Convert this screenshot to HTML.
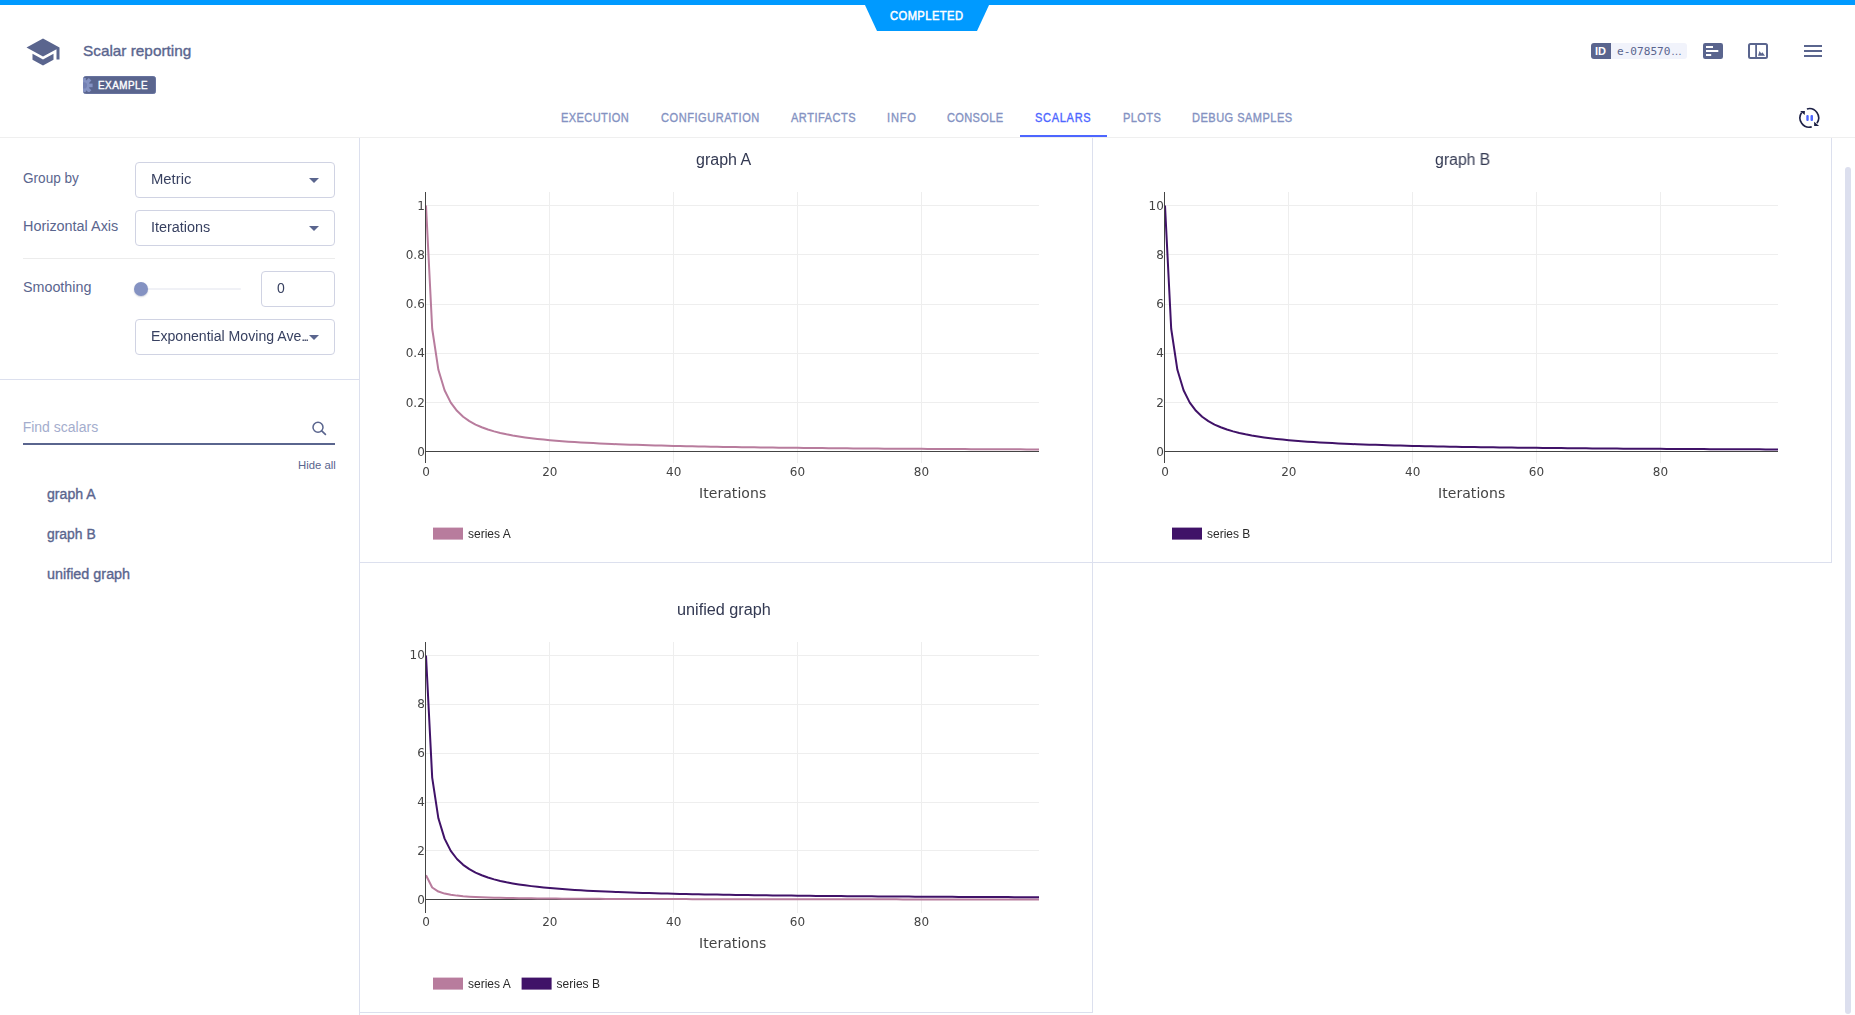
<!DOCTYPE html>
<html lang="en"><head><meta charset="utf-8"><title>Scalar reporting</title>
<style>
html,body{margin:0;padding:0;background:#fff}
body{width:1855px;height:1015px;overflow:hidden;position:relative;font-family:"Liberation Sans",sans-serif}
.abs{position:absolute}
.t{position:absolute;white-space:nowrap;line-height:1;transform-origin:0 0;margin:0;padding:0;list-style:none;display:block}
.box{position:absolute;box-sizing:border-box;border:1px solid #d0d3e3;border-radius:4px;background:#fff}
.ln{position:absolute;background:#dce0ee}
.chart,h2.t,#v_metric,#v_iter,#v_ema,#v_zero{will-change:transform}
.chart text{font-family:"DejaVu Sans","Liberation Sans",sans-serif;font-size:12px;fill:#444}
.chart text.axt{font-size:14px}
.chart text.lg{font-family:"Liberation Sans",sans-serif;font-size:12px;fill:#2a2a2a}
.arr{position:absolute;width:0;height:0;border-left:5px solid transparent;border-right:5px solid transparent;border-top:5px solid #5a658e}
</style></head><body>

<header>
<div class="abs" style="left:0;top:0;width:1855px;height:5px;background:#009aff"></div>
<svg class="abs" style="left:860px;top:0" width="134" height="32" viewBox="860 0 134 32"><polygon points="864.5,4 989.5,4 977,31 877,31" fill="#009aff"/></svg>
<div class="abs" style="left:0;top:137px;width:1855px;height:1px;background:#efefef"></div>
<svg class="abs" style="left:25px;top:33.7px" width="36" height="36" viewBox="0 0 24 24"><path fill="#5a658e" d="M5 13.18v4L12 21l7-3.82v-4L12 17l-7-3.82zM12 3L1 9l11 6 9-4.91V17h2V9L12 3z"/></svg>
<div class="abs" style="left:83px;top:76px;width:73px;height:18px;border-radius:3.5px;background:#5a658e;overflow:hidden;box-shadow:inset 0 0 0 0.6px #7480ad"><svg class="abs" style="left:-8.9px;top:1.5px" width="20" height="14.8" viewBox="-10 -7.4 20 14.8"><g fill="#8492c2"><circle r="5.6"/><rect x="-1.8" y="-8.6" width="3.6" height="4" transform="rotate(0)"/><rect x="-1.8" y="-8.6" width="3.6" height="4" transform="rotate(45)"/><rect x="-1.8" y="-8.6" width="3.6" height="4" transform="rotate(90)"/><rect x="-1.8" y="-8.6" width="3.6" height="4" transform="rotate(135)"/><rect x="-1.8" y="-8.6" width="3.6" height="4" transform="rotate(180)"/><rect x="-1.8" y="-8.6" width="3.6" height="4" transform="rotate(225)"/><rect x="-1.8" y="-8.6" width="3.6" height="4" transform="rotate(270)"/><rect x="-1.8" y="-8.6" width="3.6" height="4" transform="rotate(315)"/></g><circle r="3.1" fill="#7380b3"/></svg></div>
<div class="abs" style="left:1591px;top:43px;width:20px;height:16px;background:#5a658e;border-radius:3px 0 0 3px"></div>
<div class="abs" style="left:1611px;top:43px;width:76px;height:16px;background:#f1f3fb;border-radius:0 3px 3px 0"></div>
<svg class="abs" style="left:1703px;top:43px" width="20" height="16" viewBox="0 0 20 16"><rect width="20" height="16" rx="2.2" fill="#5a658e"/><rect x="3" y="3" width="7" height="2" fill="#fff"/><rect x="3" y="7" width="12.3" height="2" fill="#fff"/><rect x="3" y="11" width="5.2" height="2" fill="#fff"/></svg>
<svg class="abs" style="left:1748px;top:43px" width="20" height="16" viewBox="0 0 20 16"><rect x="1" y="1" width="18" height="14" rx="1.5" fill="#fff" stroke="#5a658e" stroke-width="2"/><rect x="7.2" y="1" width="1.8" height="14" fill="#5a658e"/><path d="M10 12.7 L11.6 8 L13.2 10.6 L14.4 9.2 L17 12.7 Z" fill="#5a658e"/></svg>
<svg class="abs" style="left:1804px;top:44px" width="18" height="14" viewBox="0 0 18 14"><rect y="1" width="18" height="2" fill="#5a658e"/><rect y="6" width="18" height="2" fill="#5a658e"/><rect y="11" width="18" height="2" fill="#5a658e"/></svg>
<svg class="abs" style="left:1797px;top:106px" width="24" height="24" viewBox="0 0 24 24"><g fill="none" stroke="#1d2146" stroke-width="1.6"><path d="M9.89 2.92 A9.3 9.3 0 0 1 19.92 17.23"/><path d="M14.71 20.88 A9.3 9.3 0 0 1 4.68 6.57"/></g><path d="M3.1 5.1 L7.9 5 L7.7 9 Z" fill="#1d2146"/><path d="M17.15 15.8 L17.15 20 L22.1 20 Z" fill="#1d2146"/><rect x="9.3" y="8.9" width="2.4" height="6.1" rx="1" fill="#4d66ff"/><rect x="13.5" y="8.9" width="2.5" height="6.1" rx="1" fill="#4d66ff"/></svg>
<strong class="t" id="completed" style="font:400 12px/1 'Liberation Sans', sans-serif;color:#fff;-webkit-text-stroke:0.5px #fff;letter-spacing:0.479px;left:890.10px;top:10.00px;transform:scaleX(0.9300);">COMPLETED</strong><h1 class="t" id="title" style="font:400 15px/1 'Liberation Sans', sans-serif;color:#5a658e;-webkit-text-stroke:0.35px #5a658e;left:82.65px;top:42.50px;transform:scaleX(1.0222);">Scalar reporting</h1><span class="t" id="example" style="font:400 10.6px/1 'Liberation Sans', sans-serif;color:#fff;-webkit-text-stroke:0.4px #fff;letter-spacing:0.554px;left:97.51px;top:80.00px;transform:scaleX(0.9300);">EXAMPLE</span><span class="t" id="idl" style="font:700 10.5px/1 'Liberation Sans', sans-serif;color:#fff;left:1595.15px;top:46.00px;transform:scaleX(1.0490);">ID</span><span class="t" id="idv" style="font:400 11px/1 'DejaVu Sans Mono', 'Liberation Mono', monospace;color:#5a658e;left:1616.66px;top:46.00px;transform:scaleX(1.0094);">e-078570</span><span class="t" id="idd" style="font:400 11px/1 'Liberation Sans', sans-serif;color:#5a658e;left:1670.97px;top:46.00px;transform:scaleX(0.9951);">…</span>
<nav><a class="t" id="tab0" style="font:400 12px/1 'Liberation Sans', sans-serif;color:#8492c2;-webkit-text-stroke:0.35px #8492c2;letter-spacing:0.453px;left:561.11px;top:112.00px;transform:scaleX(0.9200);">EXECUTION</a><a class="t" id="tab1" style="font:400 12px/1 'Liberation Sans', sans-serif;color:#8492c2;-webkit-text-stroke:0.35px #8492c2;letter-spacing:0.584px;left:660.55px;top:112.00px;transform:scaleX(0.9200);">CONFIGURATION</a><a class="t" id="tab2" style="font:400 12px/1 'Liberation Sans', sans-serif;color:#8492c2;-webkit-text-stroke:0.35px #8492c2;letter-spacing:0.551px;left:791.01px;top:112.00px;transform:scaleX(0.9200);">ARTIFACTS</a><a class="t" id="tab3" style="font:400 12px/1 'Liberation Sans', sans-serif;color:#8492c2;-webkit-text-stroke:0.35px #8492c2;letter-spacing:0.878px;left:886.94px;top:112.00px;transform:scaleX(0.9200);">INFO</a><a class="t" id="tab4" style="font:400 12px/1 'Liberation Sans', sans-serif;color:#8492c2;-webkit-text-stroke:0.35px #8492c2;letter-spacing:0.375px;left:947.35px;top:112.00px;transform:scaleX(0.9200);">CONSOLE</a><a class="t" id="tab5" style="font:400 12px/1 'Liberation Sans', sans-serif;color:#4d66ff;-webkit-text-stroke:0.35px #4d66ff;letter-spacing:0.747px;left:1035.48px;top:112.00px;transform:scaleX(0.9200);">SCALARS</a><a class="t" id="tab6" style="font:400 12px/1 'Liberation Sans', sans-serif;color:#8492c2;-webkit-text-stroke:0.35px #8492c2;letter-spacing:0.459px;left:1122.51px;top:112.00px;transform:scaleX(0.9200);">PLOTS</a><a class="t" id="tab7" style="font:400 12px/1 'Liberation Sans', sans-serif;color:#8492c2;-webkit-text-stroke:0.35px #8492c2;letter-spacing:0.517px;left:1192.21px;top:112.00px;transform:scaleX(0.9200);">DEBUG SAMPLES</a>
<div class="abs" style="left:1020px;top:135px;width:87px;height:2px;background:#4d66ff"></div>
</nav></header>
<aside>
<div class="ln" style="left:359px;top:138px;width:1px;height:877px"></div>
<div class="box" style="left:135px;top:162px;width:200px;height:36px"></div><i class="arr" style="left:309px;top:178px"></i>
<div class="box" style="left:135px;top:210px;width:200px;height:36px"></div><i class="arr" style="left:309px;top:226px"></i>
<div class="abs" style="left:23px;top:258px;width:312px;height:1px;background:#ececec"></div>
<div class="abs" style="left:141px;top:288px;width:100px;height:2px;background:#f0f1f6;border-radius:1px"></div>
<div class="abs" style="left:134px;top:282px;width:14px;height:14px;border-radius:50%;background:#8492c2;box-shadow:0 1px 1.5px rgba(60,70,110,.25)"></div>
<div class="box" style="left:261px;top:271px;width:74px;height:36px"></div>
<div class="box" style="left:135px;top:319px;width:200px;height:36px"></div><i class="arr" style="left:309px;top:335px"></i>
<div class="ln" style="left:0;top:379px;width:359px;height:1px"></div>
<div class="abs" style="left:23px;top:443px;width:312px;height:2px;background:#5a658e"></div>
<svg class="abs" style="left:311px;top:420px" width="16" height="16" viewBox="0 0 16 16"><circle cx="7" cy="7.2" r="5" fill="none" stroke="#5a658e" stroke-width="1.5"/><path d="M10.7 10.9 L14.4 14.4" stroke="#5a658e" stroke-width="1.7" stroke-linecap="round"/></svg>
<label class="t" id="l_group" style="font:400 14px/1 'Liberation Sans', sans-serif;color:#5a658e;left:22.89px;top:171.00px;transform:scaleX(0.9707);">Group by</label><span class="t" id="v_metric" style="font:400 14px/1 'Liberation Sans', sans-serif;color:#384161;left:151.05px;top:172.00px;transform:scaleX(1.0585);">Metric</span><label class="t" id="l_haxis" style="font:400 14px/1 'Liberation Sans', sans-serif;color:#5a658e;left:22.64px;top:219.00px;transform:scaleX(1.0284);">Horizontal Axis</label><span class="t" id="v_iter" style="font:400 14px/1 'Liberation Sans', sans-serif;color:#384161;left:150.94px;top:220.00px;transform:scaleX(1.0301);">Iterations</span><label class="t" id="l_smooth" style="font:400 14px/1 'Liberation Sans', sans-serif;color:#5a658e;left:22.82px;top:280.00px;transform:scaleX(1.0216);">Smoothing</label><span class="t" id="v_zero" style="font:400 14px/1 'Liberation Sans', sans-serif;color:#384161;left:276.70px;top:281.00px;">0</span><span class="t" id="v_ema" style="font:400 14px/1 'Liberation Sans', sans-serif;color:#384161;left:150.91px;top:329.00px;transform:scaleX(1.0074);">Exponential Moving Ave<span style="letter-spacing:-1.9px">...</span></span><span class="t" id="find" style="font:400 14px/1 'Liberation Sans', sans-serif;color:#a4adcd;left:22.66px;top:420.00px;">Find scalars</span><a class="t" id="hide" style="font:400 11px/1 'Liberation Sans', sans-serif;color:#5a658e;left:297.64px;top:460.00px;transform:scaleX(1.0306);">Hide all</a>
<ul style="margin:0;padding:0"><li class="t" id="m_a" style="font:400 14px/1 'Liberation Sans', sans-serif;color:#5a658e;-webkit-text-stroke:0.35px #5a658e;left:46.69px;top:487.00px;transform:scaleX(1.0076);">graph A</li><li class="t" id="m_b" style="font:400 14px/1 'Liberation Sans', sans-serif;color:#5a658e;-webkit-text-stroke:0.35px #5a658e;left:46.70px;top:527.00px;transform:scaleX(0.9927);">graph B</li><li class="t" id="m_u" style="font:400 14px/1 'Liberation Sans', sans-serif;color:#5a658e;-webkit-text-stroke:0.35px #5a658e;left:46.50px;top:567.00px;transform:scaleX(1.0267);">unified graph</li></ul>
</aside>
<main>
<div class="ln" style="left:1092px;top:138px;width:1px;height:875px"></div>
<div class="ln" style="left:1831px;top:138px;width:1px;height:425px"></div>
<div class="ln" style="left:360px;top:562px;width:1472px;height:1px"></div>
<div class="ln" style="left:360px;top:1012px;width:733px;height:1px"></div>
<div class="abs" style="left:1845px;top:167px;width:6px;height:847px;border-radius:3px;background:#dcdfee"></div>
<section><h2 class="t" id="g_a" style="font:400 16px/1 'Liberation Sans', sans-serif;color:#333952;left:695.80px;top:152.00px;transform:scaleX(0.9959);">graph A</h2>
<svg class="abs chart" style="left:360px;top:138px" width="732" height="424" viewBox="360 138 732 424">
<g shape-rendering="crispEdges">
<rect x="549" y="192" width="1" height="271" fill="#eee"/>
<rect x="673" y="192" width="1" height="271" fill="#eee"/>
<rect x="797" y="192" width="1" height="271" fill="#eee"/>
<rect x="921" y="192" width="1" height="271" fill="#eee"/>
<rect x="426" y="402" width="613" height="1" fill="#eee"/>
<rect x="426" y="353" width="613" height="1" fill="#eee"/>
<rect x="426" y="304" width="613" height="1" fill="#eee"/>
<rect x="426" y="254" width="613" height="1" fill="#eee"/>
<rect x="426" y="205" width="613" height="1" fill="#eee"/>
<rect x="425" y="451" width="614" height="1" fill="#444"/>
</g>
<clipPath id="cp0_0"><rect x="426" y="192" width="613" height="271"/></clipPath>
<polyline clip-path="url(#cp0_0)" points="426.00,205.55 432.19,328.73 438.38,369.79 444.58,390.32 450.77,402.64 456.96,410.85 463.15,416.72 469.34,421.12 475.54,424.54 481.73,427.27 487.92,429.51 494.11,431.38 500.30,432.96 506.49,434.31 512.69,435.49 518.88,436.51 525.07,437.42 531.26,438.22 537.45,438.94 543.65,439.59 549.84,440.18 556.03,440.71 562.22,441.20 568.41,441.65 574.61,442.06 580.80,442.43 586.99,442.79 593.18,443.11 599.37,443.41 605.57,443.70 611.76,443.96 617.95,444.21 624.14,444.44 630.33,444.66 636.53,444.87 642.72,445.07 648.91,445.25 655.10,445.43 661.29,445.59 667.48,445.75 673.68,445.90 679.87,446.04 686.06,446.18 692.25,446.31 698.44,446.44 704.64,446.55 710.83,446.67 717.02,446.78 723.21,446.88 729.40,446.98 735.60,447.08 741.79,447.17 747.98,447.26 754.17,447.35 760.36,447.43 766.56,447.51 772.75,447.59 778.94,447.66 785.13,447.73 791.32,447.80 797.52,447.87 803.71,447.94 809.90,448.00 816.09,448.06 822.28,448.12 828.47,448.18 834.67,448.23 840.86,448.29 847.05,448.34 853.24,448.39 859.43,448.44 865.63,448.49 871.82,448.54 878.01,448.58 884.20,448.63 890.39,448.67 896.59,448.71 902.78,448.75 908.97,448.79 915.16,448.83 921.35,448.87 927.55,448.91 933.74,448.94 939.93,448.98 946.12,449.01 952.31,449.05 958.51,449.08 964.70,449.11 970.89,449.14 977.08,449.17 983.27,449.20 989.46,449.23 995.66,449.26 1001.85,449.29 1008.04,449.32 1014.23,449.34 1020.42,449.37 1026.62,449.40 1032.81,449.42 1039.00,449.45" fill="none" stroke="#b87c9d" stroke-width="2" stroke-linejoin="round"/>
<g shape-rendering="crispEdges">
<rect x="425" y="192" width="1" height="271" fill="#444"/>
</g>
<g class="tk">
<text x="424.8" y="455.8" text-anchor="end">0</text>
<text x="424.8" y="406.5" text-anchor="end">0.2</text>
<text x="424.8" y="357.3" text-anchor="end">0.4</text>
<text x="424.8" y="308.0" text-anchor="end">0.6</text>
<text x="424.8" y="258.7" text-anchor="end">0.8</text>
<text x="424.8" y="209.5" text-anchor="end">1</text>
<text x="426.0" y="476" text-anchor="middle">0</text>
<text x="549.8" y="476" text-anchor="middle">20</text>
<text x="673.7" y="476" text-anchor="middle">40</text>
<text x="797.5" y="476" text-anchor="middle">60</text>
<text x="921.4" y="476" text-anchor="middle">80</text>
</g>
<text class="axt" x="699" y="498" textLength="67.2" lengthAdjust="spacing">Iterations</text>
<rect x="433.0" y="527.6" width="30" height="12" fill="#b87c9d"/>
<text class="lg" x="468.0" y="538">series A</text>
</svg>
</section>
<section><h2 class="t" id="g_b" style="font:400 16px/1 'Liberation Sans', sans-serif;color:#333952;left:1434.81px;top:152.00px;transform:scaleX(0.9871);">graph B</h2>
<svg class="abs chart" style="left:1099px;top:138px" width="732" height="424" viewBox="360 138 732 424">
<g shape-rendering="crispEdges">
<rect x="549" y="192" width="1" height="271" fill="#eee"/>
<rect x="673" y="192" width="1" height="271" fill="#eee"/>
<rect x="797" y="192" width="1" height="271" fill="#eee"/>
<rect x="921" y="192" width="1" height="271" fill="#eee"/>
<rect x="426" y="402" width="613" height="1" fill="#eee"/>
<rect x="426" y="353" width="613" height="1" fill="#eee"/>
<rect x="426" y="304" width="613" height="1" fill="#eee"/>
<rect x="426" y="254" width="613" height="1" fill="#eee"/>
<rect x="426" y="205" width="613" height="1" fill="#eee"/>
<rect x="425" y="451" width="614" height="1" fill="#444"/>
</g>
<clipPath id="cp739_0"><rect x="426" y="192" width="613" height="271"/></clipPath>
<polyline clip-path="url(#cp739_0)" points="426.00,205.55 432.19,328.73 438.38,369.79 444.58,390.32 450.77,402.64 456.96,410.85 463.15,416.72 469.34,421.12 475.54,424.54 481.73,427.27 487.92,429.51 494.11,431.38 500.30,432.96 506.49,434.31 512.69,435.49 518.88,436.51 525.07,437.42 531.26,438.22 537.45,438.94 543.65,439.59 549.84,440.18 556.03,440.71 562.22,441.20 568.41,441.65 574.61,442.06 580.80,442.43 586.99,442.79 593.18,443.11 599.37,443.41 605.57,443.70 611.76,443.96 617.95,444.21 624.14,444.44 630.33,444.66 636.53,444.87 642.72,445.07 648.91,445.25 655.10,445.43 661.29,445.59 667.48,445.75 673.68,445.90 679.87,446.04 686.06,446.18 692.25,446.31 698.44,446.44 704.64,446.55 710.83,446.67 717.02,446.78 723.21,446.88 729.40,446.98 735.60,447.08 741.79,447.17 747.98,447.26 754.17,447.35 760.36,447.43 766.56,447.51 772.75,447.59 778.94,447.66 785.13,447.73 791.32,447.80 797.52,447.87 803.71,447.94 809.90,448.00 816.09,448.06 822.28,448.12 828.47,448.18 834.67,448.23 840.86,448.29 847.05,448.34 853.24,448.39 859.43,448.44 865.63,448.49 871.82,448.54 878.01,448.58 884.20,448.63 890.39,448.67 896.59,448.71 902.78,448.75 908.97,448.79 915.16,448.83 921.35,448.87 927.55,448.91 933.74,448.94 939.93,448.98 946.12,449.01 952.31,449.05 958.51,449.08 964.70,449.11 970.89,449.14 977.08,449.17 983.27,449.20 989.46,449.23 995.66,449.26 1001.85,449.29 1008.04,449.32 1014.23,449.34 1020.42,449.37 1026.62,449.40 1032.81,449.42 1039.00,449.45" fill="none" stroke="#401268" stroke-width="2" stroke-linejoin="round"/>
<g shape-rendering="crispEdges">
<rect x="425" y="192" width="1" height="271" fill="#444"/>
</g>
<g class="tk">
<text x="424.8" y="455.8" text-anchor="end">0</text>
<text x="424.8" y="406.5" text-anchor="end">2</text>
<text x="424.8" y="357.3" text-anchor="end">4</text>
<text x="424.8" y="308.0" text-anchor="end">6</text>
<text x="424.8" y="258.7" text-anchor="end">8</text>
<text x="424.8" y="209.5" text-anchor="end">10</text>
<text x="426.0" y="476" text-anchor="middle">0</text>
<text x="549.8" y="476" text-anchor="middle">20</text>
<text x="673.7" y="476" text-anchor="middle">40</text>
<text x="797.5" y="476" text-anchor="middle">60</text>
<text x="921.4" y="476" text-anchor="middle">80</text>
</g>
<text class="axt" x="699" y="498" textLength="67.2" lengthAdjust="spacing">Iterations</text>
<rect x="433.0" y="527.6" width="30" height="12" fill="#401268"/>
<text class="lg" x="468.0" y="538">series B</text>
</svg>
</section>
<section><h2 class="t" id="g_u" style="font:400 16px/1 'Liberation Sans', sans-serif;color:#333952;left:676.73px;top:602.00px;transform:scaleX(1.0144);">unified graph</h2>
<svg class="abs chart" style="left:360px;top:588px" width="732" height="424" viewBox="360 138 732 424">
<g shape-rendering="crispEdges">
<rect x="549" y="192" width="1" height="271" fill="#eee"/>
<rect x="673" y="192" width="1" height="271" fill="#eee"/>
<rect x="797" y="192" width="1" height="271" fill="#eee"/>
<rect x="921" y="192" width="1" height="271" fill="#eee"/>
<rect x="426" y="400" width="613" height="1" fill="#eee"/>
<rect x="426" y="352" width="613" height="1" fill="#eee"/>
<rect x="426" y="303" width="613" height="1" fill="#eee"/>
<rect x="426" y="254" width="613" height="1" fill="#eee"/>
<rect x="426" y="205" width="613" height="1" fill="#eee"/>
<rect x="425" y="449" width="614" height="1" fill="#444"/>
</g>
<clipPath id="cp0_450"><rect x="426" y="192" width="613" height="271"/></clipPath>
<polyline clip-path="url(#cp0_450)" points="426.00,425.28 432.19,437.48 438.38,441.55 444.58,443.59 450.77,444.81 456.96,445.62 463.15,446.20 469.34,446.64 475.54,446.98 481.73,447.25 487.92,447.47 494.11,447.66 500.30,447.81 506.49,447.95 512.69,448.06 518.88,448.16 525.07,448.25 531.26,448.33 537.45,448.41 543.65,448.47 549.84,448.53 556.03,448.58 562.22,448.63 568.41,448.67 574.61,448.71 580.80,448.75 586.99,448.79 593.18,448.82 599.37,448.85 605.57,448.88 611.76,448.90 617.95,448.93 624.14,448.95 630.33,448.97 636.53,448.99 642.72,449.01 648.91,449.03 655.10,449.05 661.29,449.06 667.48,449.08 673.68,449.09 679.87,449.11 686.06,449.12 692.25,449.14 698.44,449.15 704.64,449.16 710.83,449.17 717.02,449.18 723.21,449.19 729.40,449.20 735.60,449.21 741.79,449.22 747.98,449.23 754.17,449.24 760.36,449.25 766.56,449.25 772.75,449.26 778.94,449.27 785.13,449.28 791.32,449.28 797.52,449.29 803.71,449.30 809.90,449.30 816.09,449.31 822.28,449.31 828.47,449.32 834.67,449.33 840.86,449.33 847.05,449.34 853.24,449.34 859.43,449.35 865.63,449.35 871.82,449.36 878.01,449.36 884.20,449.36 890.39,449.37 896.59,449.37 902.78,449.38 908.97,449.38 915.16,449.38 921.35,449.39 927.55,449.39 933.74,449.40 939.93,449.40 946.12,449.40 952.31,449.41 958.51,449.41 964.70,449.41 970.89,449.42 977.08,449.42 983.27,449.42 989.46,449.42 995.66,449.43 1001.85,449.43 1008.04,449.43 1014.23,449.44 1020.42,449.44 1026.62,449.44 1032.81,449.44 1039.00,449.45" fill="none" stroke="#b87c9d" stroke-width="2" stroke-linejoin="round"/>
<polyline clip-path="url(#cp0_450)" points="426.00,205.55 432.19,327.62 438.38,368.31 444.58,388.65 450.77,400.86 456.96,409.00 463.15,414.81 469.34,419.17 475.54,422.56 481.73,425.28 487.92,427.50 494.11,429.35 500.30,430.91 506.49,432.25 512.69,433.41 518.88,434.43 525.07,435.33 531.26,436.13 537.45,436.84 543.65,437.48 549.84,438.06 556.03,438.59 562.22,439.08 568.41,439.52 574.61,439.92 580.80,440.30 586.99,440.65 593.18,440.97 599.37,441.27 605.57,441.55 611.76,441.81 617.95,442.06 624.14,442.29 630.33,442.51 636.53,442.71 642.72,442.91 648.91,443.09 655.10,443.27 661.29,443.43 667.48,443.59 673.68,443.74 679.87,443.88 686.06,444.01 692.25,444.14 698.44,444.26 704.64,444.38 710.83,444.50 717.02,444.60 723.21,444.71 729.40,444.81 735.60,444.90 741.79,445.00 747.98,445.08 754.17,445.17 760.36,445.25 766.56,445.33 772.75,445.41 778.94,445.48 785.13,445.55 791.32,445.62 797.52,445.69 803.71,445.75 809.90,445.81 816.09,445.88 822.28,445.93 828.47,445.99 834.67,446.05 840.86,446.10 847.05,446.15 853.24,446.20 859.43,446.25 865.63,446.30 871.82,446.35 878.01,446.39 884.20,446.43 890.39,446.48 896.59,446.52 902.78,446.56 908.97,446.60 915.16,446.64 921.35,446.68 927.55,446.71 933.74,446.75 939.93,446.78 946.12,446.82 952.31,446.85 958.51,446.88 964.70,446.92 970.89,446.95 977.08,446.98 983.27,447.01 989.46,447.04 995.66,447.06 1001.85,447.09 1008.04,447.12 1014.23,447.15 1020.42,447.17 1026.62,447.20 1032.81,447.22 1039.00,447.25" fill="none" stroke="#401268" stroke-width="2" stroke-linejoin="round"/>
<g shape-rendering="crispEdges">
<rect x="425" y="192" width="1" height="271" fill="#444"/>
</g>
<g class="tk">
<text x="424.8" y="453.6" text-anchor="end">0</text>
<text x="424.8" y="404.8" text-anchor="end">2</text>
<text x="424.8" y="355.9" text-anchor="end">4</text>
<text x="424.8" y="307.1" text-anchor="end">6</text>
<text x="424.8" y="258.3" text-anchor="end">8</text>
<text x="424.8" y="209.4" text-anchor="end">10</text>
<text x="426.0" y="476" text-anchor="middle">0</text>
<text x="549.8" y="476" text-anchor="middle">20</text>
<text x="673.7" y="476" text-anchor="middle">40</text>
<text x="797.5" y="476" text-anchor="middle">60</text>
<text x="921.4" y="476" text-anchor="middle">80</text>
</g>
<text class="axt" x="699" y="498" textLength="67.2" lengthAdjust="spacing">Iterations</text>
<rect x="433.0" y="527.6" width="30" height="12" fill="#b87c9d"/>
<text class="lg" x="468.0" y="538">series A</text>
<rect x="521.6" y="527.6" width="30" height="12" fill="#401268"/>
<text class="lg" x="556.6" y="538">series B</text>
</svg>
</section>
</main>
</body></html>
